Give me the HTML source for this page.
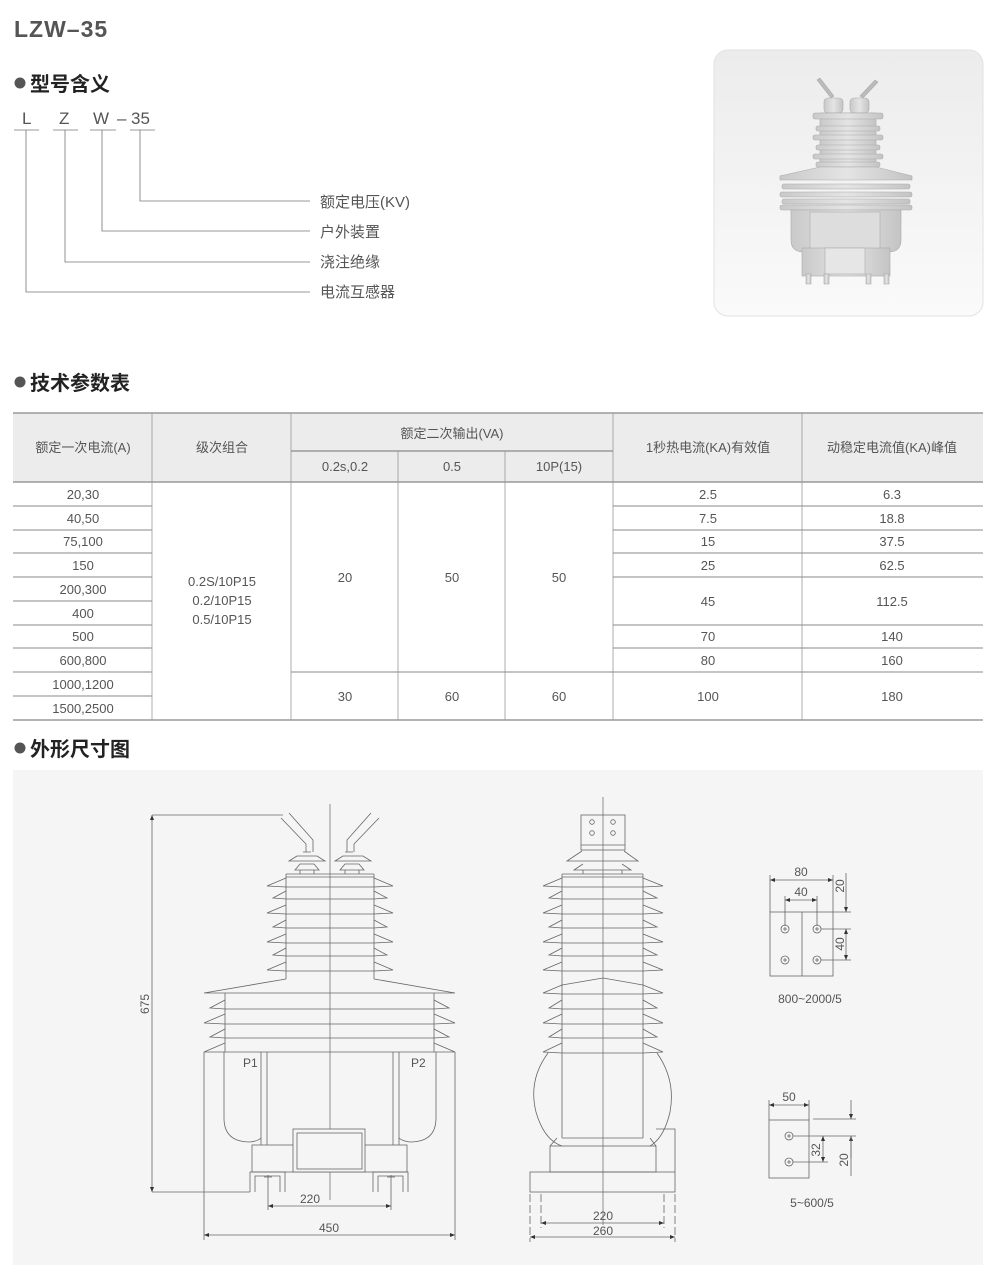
<!DOCTYPE html>
<html><head><meta charset="utf-8">
<style>
html,body{margin:0;padding:0;background:#fff;}
svg{display:block;}
text{font-family:"Liberation Sans","Noto Sans CJK SC",sans-serif;fill:#555;}
.t{font-size:13px;text-anchor:middle;}
.d{font-size:12px;text-anchor:middle;fill:#555;}
.ln{stroke:#777;stroke-width:0.8;fill:none;}
.dr{stroke:#666;stroke-width:0.8;fill:none;}
</style></head>
<body>
<svg width="1000" height="1280" viewBox="0 0 1000 1280" xmlns="http://www.w3.org/2000/svg">
<defs>
<marker id="a" viewBox="0 0 10 10" refX="10" refY="5" markerUnits="userSpaceOnUse" markerWidth="7" markerHeight="5" orient="auto-start-reverse"><path d="M0,1 L10,5 L0,9 z" fill="#333"/></marker>
<linearGradient id="pg" x1="0" y1="0" x2="0" y2="1"><stop offset="0" stop-color="#ececec"/><stop offset="1" stop-color="#fafafa"/></linearGradient>
<linearGradient id="bg2" x1="0" y1="0" x2="1" y2="0"><stop offset="0" stop-color="#c9c9c9"/><stop offset="0.5" stop-color="#e4e4e4"/><stop offset="1" stop-color="#c4c4c4"/></linearGradient>
</defs>

<text x="14" y="37" style="font-size:23px;font-weight:bold;fill:#555;letter-spacing:1px">LZW–35</text>

<circle cx="20" cy="83" r="5.5" fill="#555"/>
<text x="30" y="91" style="font-size:20px;font-weight:bold;fill:#222">型号含义</text>

<g style="font-size:17px;fill:#555">
<text x="22" y="124">L</text><text x="59" y="124">Z</text><text x="93" y="124">W</text><text x="117" y="124">–</text><text x="131" y="124">35</text>
</g>
<g class="ln" stroke="#999">
<line x1="14" y1="130" x2="39" y2="130"/><line x1="53" y1="130" x2="78" y2="130"/>
<line x1="90" y1="130" x2="116" y2="130"/><line x1="130" y1="130" x2="155" y2="130"/>
<polyline points="140,130 140,201 310,201"/>
<polyline points="102,130 102,231 310,231"/>
<polyline points="65,130 65,262 310,262"/>
<polyline points="26,130 26,292 310,292"/>
</g>
<g style="font-size:15px;fill:#444">
<text x="320" y="207">额定电压(KV)</text>
<text x="320" y="237">户外装置</text>
<text x="320" y="267">浇注绝缘</text>
<text x="320" y="297">电流互感器</text>
</g>

<rect x="714" y="50" width="269" height="266" rx="14" fill="url(#pg)" stroke="#e2e2e2"/>
<g fill="url(#bg2)" stroke="#aaa" stroke-width="0.6">
<path d="M817,80 L831,98 L834,96 L820,78z" fill="#bbb"/>
<path d="M878,82 L863,98 L860,96 L875,80z" fill="#bbb"/>
<rect x="824" y="98" width="19" height="15" rx="4"/>
<rect x="850" y="98" width="19" height="15" rx="4"/>
<rect x="820" y="113" width="56" height="56"/>
<rect x="813" y="113" width="70" height="6" rx="2"/>
<rect x="816" y="126" width="64" height="5" rx="2"/>
<rect x="813" y="135" width="70" height="5" rx="2"/>
<rect x="816" y="145" width="64" height="5" rx="2"/>
<rect x="813" y="154" width="70" height="5" rx="2"/>
<rect x="816" y="162" width="64" height="5" rx="2"/>
<path d="M820,167 L780,176 L780,180 L912,180 L912,176 L876,167z"/>
<rect x="782" y="184" width="128" height="5" rx="2"/>
<rect x="780" y="192" width="132" height="5" rx="2"/>
<rect x="782" y="199" width="128" height="5" rx="2"/>
<rect x="780" y="205" width="132" height="5" rx="2"/>
<path d="M791,210 L901,210 L901,240 Q901,252 888,252 L804,252 Q791,252 791,240z"/>
<rect x="810" y="212" width="70" height="38" fill="#ddd"/>
<rect x="802" y="248" width="88" height="28"/>
<rect x="825" y="248" width="40" height="26" fill="#e6e6e6"/>
<rect x="806" y="274" width="5" height="10"/><rect x="824" y="274" width="5" height="10"/>
<rect x="866" y="274" width="5" height="10"/><rect x="884" y="274" width="5" height="10"/>
</g>

<circle cx="20" cy="382" r="5.5" fill="#555"/>
<text x="30" y="390" style="font-size:20px;font-weight:bold;fill:#222">技术参数表</text>

<rect x="13" y="413" width="970" height="69" fill="#ececec"/>
<g stroke="#888" stroke-width="1.2">
<line x1="13" y1="413" x2="983" y2="413"/>
<line x1="291" y1="451" x2="613" y2="451"/>
<line x1="13" y1="482" x2="983" y2="482"/>
<line x1="13" y1="720" x2="983" y2="720"/>
</g>
<g stroke="#888" stroke-width="1">
<line x1="13" y1="506" x2="152" y2="506"/><line x1="613" y1="506" x2="983" y2="506"/>
<line x1="13" y1="530" x2="152" y2="530"/><line x1="613" y1="530" x2="983" y2="530"/>
<line x1="13" y1="553" x2="152" y2="553"/><line x1="613" y1="553" x2="983" y2="553"/>
<line x1="13" y1="577" x2="152" y2="577"/><line x1="613" y1="577" x2="983" y2="577"/>
<line x1="13" y1="601" x2="152" y2="601"/>
<line x1="13" y1="625" x2="152" y2="625"/><line x1="613" y1="625" x2="983" y2="625"/>
<line x1="13" y1="648" x2="152" y2="648"/><line x1="613" y1="648" x2="983" y2="648"/>
<line x1="13" y1="672" x2="983" y2="672"/>
<line x1="13" y1="696" x2="152" y2="696"/>
<line x1="152" y1="672" x2="291" y2="672" stroke="#fff" stroke-width="2"/>
</g>
<g stroke="#999" stroke-width="0.8">
<line x1="152" y1="413" x2="152" y2="720"/>
<line x1="291" y1="413" x2="291" y2="720"/>
<line x1="398" y1="451" x2="398" y2="720"/>
<line x1="505" y1="451" x2="505" y2="720"/>
<line x1="613" y1="413" x2="613" y2="720"/>
<line x1="802" y1="413" x2="802" y2="720"/>
</g>
<g class="t">
<text x="83" y="452">额定一次电流(A)</text>
<text x="222" y="452">级次组合</text>
<text x="452" y="438">额定二次输出(VA)</text>
<text x="345" y="471">0.2s,0.2</text>
<text x="452" y="471">0.5</text>
<text x="559" y="471">10P(15)</text>
<text x="708" y="452">1秒热电流(KA)有效值</text>
<text x="892" y="452">动稳定电流值(KA)峰值</text>
<text x="83" y="499">20,30</text>
<text x="83" y="523">40,50</text>
<text x="83" y="546">75,100</text>
<text x="83" y="570">150</text>
<text x="83" y="594">200,300</text>
<text x="83" y="618">400</text>
<text x="83" y="641">500</text>
<text x="83" y="665">600,800</text>
<text x="83" y="689">1000,1200</text>
<text x="83" y="713">1500,2500</text>
<text x="222" y="586">0.2S/10P15</text>
<text x="222" y="605">0.2/10P15</text>
<text x="222" y="624">0.5/10P15</text>
<text x="345" y="582">20</text><text x="452" y="582">50</text><text x="559" y="582">50</text>
<text x="345" y="701">30</text><text x="452" y="701">60</text><text x="559" y="701">60</text>
<text x="708" y="499">2.5</text><text x="892" y="499">6.3</text>
<text x="708" y="523">7.5</text><text x="892" y="523">18.8</text>
<text x="708" y="546">15</text><text x="892" y="546">37.5</text>
<text x="708" y="570">25</text><text x="892" y="570">62.5</text>
<text x="708" y="606">45</text><text x="892" y="606">112.5</text>
<text x="708" y="641">70</text><text x="892" y="641">140</text>
<text x="708" y="665">80</text><text x="892" y="665">160</text>
<text x="708" y="701">100</text><text x="892" y="701">180</text>
</g>

<circle cx="20" cy="748" r="5.5" fill="#555"/>
<text x="30" y="756" style="font-size:20px;font-weight:bold;fill:#222">外形尺寸图</text>

<rect x="13" y="770" width="970" height="495" fill="#f5f5f5"/>

<g class="dr">
<line x1="330" y1="804" x2="330" y2="1200" stroke="#777"/>
<line x1="152" y1="815" x2="283" y2="815"/>
<line x1="152" y1="1192" x2="250" y2="1192"/>
<line x1="152" y1="815" x2="152" y2="1192" marker-start="url(#a)" marker-end="url(#a)"/>
<path d="M281,818 L306,844 L306,852 M289,813 L313,840 L313,852"/>
<path d="M379,818 L354,844 L354,852 M371,813 L347,840 L347,852"/>
<path d="M303,852 h8 M297,856 L289,861 L325,861 L317,856 z M300,864 L295,870 L319,870 L314,864 z M300,870 v4 M314,870 v4"/>
<path d="M345,852 h8 M343,856 L335,861 L371,861 L363,856 z M345,864 L340,870 L364,870 L359,864 z M345,870 v4 M359,870 v4"/>
<line x1="286" y1="874" x2="374" y2="874"/>
<line x1="286" y1="877" x2="374" y2="877"/>
<line x1="286" y1="874" x2="286" y2="979"/>
<line x1="374" y1="874" x2="374" y2="979"/>
<path d="M286,878 L267,886 L286,887 M374,878 L393,886 L374,887 M286,887 H374"/>
<path d="M286,891 L273,898 L286,899 M374,891 L387,898 L374,899 M286,899 H374"/>
<path d="M286,905 L267,913 L286,914 M374,905 L393,913 L374,914 M286,914 H374"/>
<path d="M286,920 L273,927 L286,928 M374,920 L387,927 L374,928 M286,928 H374"/>
<path d="M286,934 L267,942 L286,943 M374,934 L393,942 L374,943 M286,943 H374"/>
<path d="M286,948 L273,955 L286,956 M374,948 L387,955 L374,956 M286,956 H374"/>
<path d="M286,962 L267,970 L286,971 M374,962 L393,970 L374,971 M286,971 H374"/>
<path d="M286,979 L204,993 L455,993 L374,979"/>
<line x1="225" y1="993" x2="225" y2="1052"/>
<line x1="434" y1="993" x2="434" y2="1052"/>
<path d="M225,1000 L210,1008 L225,1009 M434,1000 L449,1008 L434,1009 M225,1009 H434"/>
<path d="M225,1014 L204,1023 L225,1024 M434,1014 L455,1023 L434,1024 M225,1024 H434"/>
<path d="M225,1029 L210,1037 L225,1038 M434,1029 L449,1037 L434,1038 M225,1038 H434"/>
<path d="M225,1043 L204,1052 L455,1052 L434,1043"/>
<line x1="204" y1="1052" x2="204" y2="1240"/>
<line x1="455" y1="1052" x2="455" y2="1240"/>
<path d="M224,1052 V1118 Q224,1142 250,1142 Q258,1141 261,1138"/>
<line x1="261" y1="1052" x2="261" y2="1145"/>
<line x1="267" y1="1052" x2="267" y2="1145"/>
<path d="M436,1052 V1118 Q436,1142 410,1142 Q402,1141 399,1138"/>
<line x1="399" y1="1052" x2="399" y2="1145"/>
<line x1="393" y1="1052" x2="393" y2="1145"/>
<rect x="252" y="1145" width="155" height="27"/>
<rect x="293" y="1129" width="72" height="43" fill="#f5f5f5"/>
<rect x="297" y="1133" width="65" height="36"/>
<path d="M250,1192 V1172 H285 V1192 M255,1192 V1176 H280 V1192"/>
<path d="M373,1192 V1172 H408 V1192 M378,1192 V1176 H403 V1192"/>
<path d="M264,1177 h8 M268,1175 v5 M387,1177 h8 M391,1175 v5"/>
<line x1="268" y1="1180" x2="268" y2="1210"/>
<line x1="391" y1="1180" x2="391" y2="1210"/>
<line x1="268" y1="1206" x2="391" y2="1206" marker-start="url(#a)" marker-end="url(#a)"/>
<line x1="204" y1="1235" x2="455" y2="1235" marker-start="url(#a)" marker-end="url(#a)"/>
</g>
<text class="d" x="243" y="1067" style="text-anchor:start">P1</text>
<text class="d" x="411" y="1067" style="text-anchor:start">P2</text>
<text class="d" x="310" y="1203">220</text>
<text class="d" x="329" y="1232">450</text>
<text class="d" x="0" y="0" transform="translate(149,1004) rotate(-90)">675</text>

<g class="dr">
<line x1="603" y1="797" x2="603" y2="1225" stroke="#777"/>
<rect x="581" y="815" width="44" height="35"/>
<line x1="581" y1="845" x2="625" y2="845"/>
<circle cx="592" cy="822" r="2.3"/><circle cx="613" cy="822" r="2.3"/>
<circle cx="592" cy="833" r="2.3"/><circle cx="613" cy="833" r="2.3"/>
<path d="M582,851 L567,861 L638,861 L624,851 M583,864 L574,870 L631,870 L622,864 M583,870 v4 M622,870 v4"/>
<line x1="562" y1="874" x2="643" y2="874"/>
<line x1="562" y1="877" x2="643" y2="877"/>
<line x1="562" y1="874" x2="562" y2="1138"/>
<line x1="643" y1="874" x2="643" y2="1138"/>
<path d="M562,878 L543,886 L562,887 M643,878 L663,886 L643,887 M562,887 H643"/>
<path d="M562,891 L549,898 L562,899 M643,891 L657,898 L643,899 M562,899 H643"/>
<path d="M562,905 L543,913 L562,914 M643,905 L663,913 L643,914 M562,914 H643"/>
<path d="M562,920 L549,927 L562,928 M643,920 L657,927 L643,928 M562,928 H643"/>
<path d="M562,934 L543,942 L562,943 M643,934 L663,942 L643,943 M562,943 H643"/>
<path d="M562,948 L549,955 L562,956 M643,948 L657,955 L643,956 M562,956 H643"/>
<path d="M562,962 L543,970 L562,971 M643,962 L663,970 L643,971 M562,971 H643"/>
<path d="M562,985 L603,978 L643,985 M562,985 L543,993 L562,994 M643,985 L663,993 L643,994 M562,994 H643"/>
<path d="M562,1000 L549,1008 L562,1009 M643,1000 L657,1008 L643,1009 M562,1009 H643"/>
<path d="M562,1014 L543,1023 L562,1024 M643,1014 L663,1023 L643,1024 M562,1024 H643"/>
<path d="M562,1029 L549,1037 L562,1038 M643,1029 L657,1037 L643,1038 M562,1038 H643"/>
<path d="M562,1043 L543,1052 L562,1053 M643,1043 L663,1052 L643,1053 M562,1053 H643"/>
<path d="M548,1053 Q528,1080 536,1112 Q544,1140 562,1146"/>
<path d="M657,1053 Q676,1080 670,1112 Q664,1138 650,1146"/>
<path d="M562,1138 H643"/>
<path d="M550,1146 L557,1138 M656,1146 L650,1138"/>
<rect x="550" y="1146" width="106" height="26"/>
<path d="M656,1129 H675 V1172"/>
<rect x="530" y="1172" width="145" height="20"/>
<path d="M541,1194 V1228 M664,1194 V1228 M530,1194 V1242 M675,1194 V1242" stroke-dasharray="8,3"/>
<line x1="541" y1="1223" x2="664" y2="1223" marker-start="url(#a)" marker-end="url(#a)"/>
<line x1="530" y1="1237" x2="675" y2="1237" marker-start="url(#a)" marker-end="url(#a)"/>
</g>
<text class="d" x="603" y="1220">220</text>
<text class="d" x="603" y="1235">260</text>

<g class="dr" stroke="#555">
<rect x="770" y="912" width="63" height="64"/>
<line x1="802" y1="912" x2="802" y2="976"/>
<circle cx="785" cy="929" r="4"/><circle cx="817" cy="929" r="4"/>
<circle cx="785" cy="960" r="4"/><circle cx="817" cy="960" r="4"/>
<path d="M783,929 h4 M785,927 v4 M815,929 h4 M817,927 v4 M783,960 h4 M785,958 v4 M815,960 h4 M817,958 v4"/>
<line x1="770" y1="875" x2="770" y2="912"/>
<line x1="833" y1="875" x2="833" y2="912"/>
<line x1="770" y1="880" x2="833" y2="880" marker-start="url(#a)" marker-end="url(#a)"/>
<line x1="785" y1="896" x2="785" y2="926"/>
<line x1="817" y1="896" x2="817" y2="926"/>
<line x1="785" y1="900" x2="817" y2="900" marker-start="url(#a)" marker-end="url(#a)"/>
<line x1="833" y1="912" x2="851" y2="912"/>
<line x1="821" y1="929" x2="851" y2="929"/>
<line x1="821" y1="960" x2="851" y2="960"/>
<line x1="846" y1="873" x2="846" y2="912" marker-end="url(#a)"/>
<line x1="846" y1="929" x2="846" y2="960" marker-start="url(#a)" marker-end="url(#a)"/>
</g>
<text class="d" x="801" y="876">80</text>
<text class="d" x="801" y="896">40</text>
<text class="d" transform="translate(844,886) rotate(-90)">20</text>
<text class="d" transform="translate(844,944) rotate(-90)">40</text>
<text class="d" x="810" y="1003">800~2000/5</text>

<g class="dr" stroke="#555">
<rect x="769" y="1120" width="40" height="58"/>
<circle cx="789" cy="1136" r="4"/><circle cx="789" cy="1162" r="4"/>
<path d="M787,1136 h4 M789,1134 v4 M787,1162 h4 M789,1160 v4"/>
<line x1="769" y1="1100" x2="769" y2="1120"/>
<line x1="809" y1="1100" x2="809" y2="1120"/>
<line x1="769" y1="1105" x2="809" y2="1105" marker-start="url(#a)" marker-end="url(#a)"/>
<line x1="813" y1="1119" x2="856" y2="1119"/>
<line x1="793" y1="1136" x2="856" y2="1136"/>
<line x1="793" y1="1162" x2="828" y2="1162"/>
<line x1="823" y1="1136" x2="823" y2="1162" marker-start="url(#a)" marker-end="url(#a)"/>
<line x1="851" y1="1100" x2="851" y2="1119" marker-end="url(#a)"/>
<line x1="851" y1="1158" x2="851" y2="1136" marker-end="url(#a)"/>
<line x1="851" y1="1136" x2="851" y2="1176"/>
</g>
<text class="d" x="789" y="1101">50</text>
<text class="d" transform="translate(820,1150) rotate(-90)">32</text>
<text class="d" transform="translate(848,1160) rotate(-90)">20</text>
<text class="d" x="812" y="1207">5~600/5</text>
</svg>
</body></html>
